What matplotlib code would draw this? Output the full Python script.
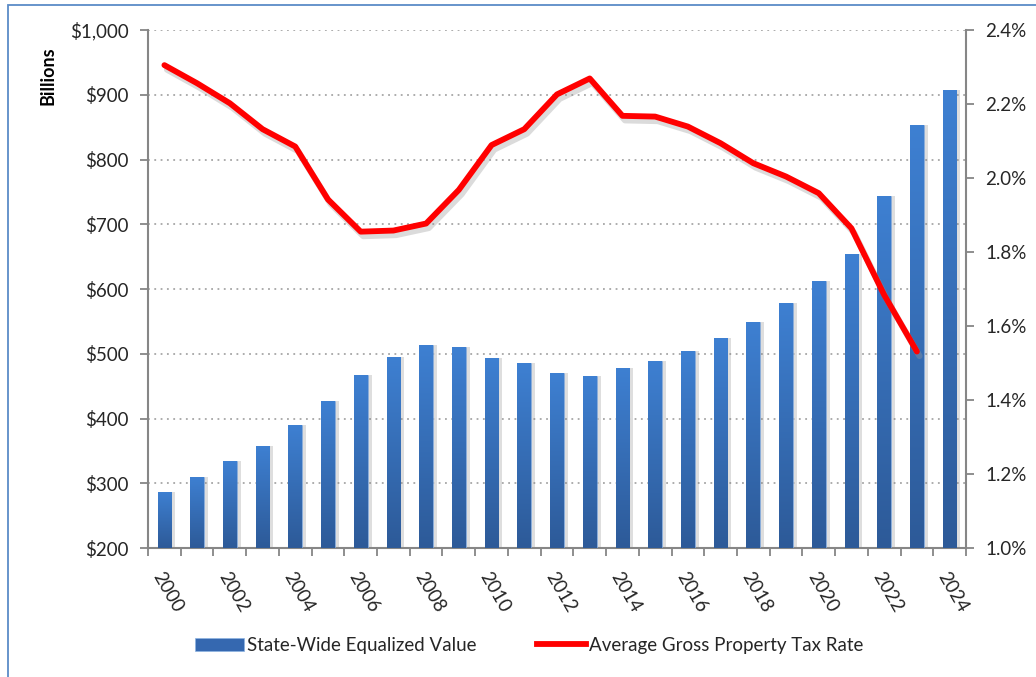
import numpy as np
import matplotlib.pyplot as plt
from matplotlib.patches import Rectangle
from matplotlib.lines import Line2D
from matplotlib.colors import LinearSegmentedColormap

# Data
years = list(range(2000, 2025))
equalized_value = [287, 310, 334, 358, 390, 427, 467, 495, 513, 510, 494, 485, 470,
                   465, 478, 489, 504, 525, 549, 579, 612, 654, 744, 853, 907]
rate_years = list(range(2000, 2024))
tax_rate = [2.305, 2.256, 2.202, 2.132, 2.085, 1.942, 1.855, 1.858, 1.877, 1.968,
            2.089, 2.132, 2.226, 2.269, 2.168, 2.166, 2.139, 2.094, 2.040, 2.004,
            1.959, 1.864, 1.684, 1.531]
left_ticks = [200, 300, 400, 500, 600, 700, 800, 900, 1000]
right_ticks = [1.0, 1.2, 1.4, 1.6, 1.8, 2.0, 2.2, 2.4]

plt.rcParams['font.family'] = ['Lato', 'DejaVu Sans']

axis_gray = '#868686'
text_col = '#262626'
fs = 13.5

fig = plt.figure(figsize=(10.36, 6.77), dpi=100)
ax = fig.add_axes([0.1429, 0.1905, 0.7895, 0.7652])
ax2 = ax.twinx()

x = np.arange(len(years))
grad = LinearSegmentedColormap.from_list('bar', ['#2D5A98', '#3E80D2'])
gradient = np.linspace(0, 1, 256).reshape(-1, 1)

# shadows then bars
ax.bar(x + 0.12, np.array(equalized_value) - 200, width=0.42, bottom=200,
       color='#7f7f7f', alpha=0.25, zorder=2)
bars = ax.bar(x, np.array(equalized_value) - 200, width=0.42, bottom=200,
              color='#3872C0', edgecolor='#8DB3E2', linewidth=0.4, zorder=3)
for b in bars:
    x0, y0 = b.get_x(), b.get_y()
    im = ax.imshow(gradient, cmap=grad, aspect='auto', origin='lower',
                   extent=[x0, x0 + b.get_width(), y0, y0 + b.get_height()],
                   zorder=3.5)
    im.set_clip_path(b)

ax.set_xlim(-0.5, len(years) - 0.5)
ax.set_ylim(200, 1000)
ax.set_yticks(left_ticks)
ax.set_yticklabels(['$' + format(v, ',') for v in left_ticks], fontsize=fs, color=text_col)
ax.yaxis.grid(True, linestyle=(0, (1, 2.5)), color='#A6A6A6', linewidth=1.3)
ax.set_axisbelow(True)

# tick marks between bars, labels every second year
ax.set_xticks(np.arange(-0.5, len(years), 1.0))
ax.set_xticklabels([])
ax.set_xticks(x[::2], minor=True)
ax.set_xticklabels([str(y) for y in years[::2]], minor=True, rotation=-60,
                   ha='left', va='top', rotation_mode='anchor', fontsize=fs,
                   color=text_col)
ax.tick_params(axis='x', which='major', length=6, width=1.3, color=axis_gray)
ax.tick_params(axis='x', which='minor', length=0, pad=15)
ax.tick_params(axis='y', length=6, width=1.3, color=axis_gray, pad=8)

for s in ['top', 'right']:
    ax.spines[s].set_visible(False)
for s in ['left', 'bottom']:
    ax.spines[s].set_color(axis_gray)
    ax.spines[s].set_linewidth(1.5)

# line on right axis
rx = np.array([years.index(y) for y in rate_years])
ax2.plot(rx + 0.08, np.array(tax_rate) - 0.012, color='#999999', alpha=0.35,
         linewidth=4.5, solid_capstyle='round', zorder=4)
ax2.plot(rx, tax_rate, color='#FF0000', linewidth=4.2, solid_capstyle='round',
         solid_joinstyle='round', zorder=5)
ax2.set_ylim(1.0, 2.4)
ax2.set_yticks(right_ticks)
ax2.set_yticklabels(['%.1f%%' % v for v in right_ticks], fontsize=fs, color=text_col)
ax2.tick_params(axis='y', length=6, width=1.3, color=axis_gray, pad=8)
for s in ['top', 'left', 'bottom']:
    ax2.spines[s].set_visible(False)
ax2.spines['right'].set_color(axis_gray)
ax2.spines['right'].set_linewidth(1.5)

fig.text(0.046, 0.888, 'Billions', rotation=90, fontsize=13, fontweight='bold',
         color='#000000', ha='center', va='center')

handles = [Rectangle((0, 0), 1, 1, facecolor='#3568B0', edgecolor='#8DB3E2', linewidth=0.5),
           Line2D([0], [0], color='#FF0000', linewidth=4.2)]
fig.legend(handles, ['State-Wide Equalized Value', 'Average Gross Property Tax Rate'],
           loc='center', bbox_to_anchor=(0.511, 0.047), ncol=2, frameon=False,
           fontsize=fs, handlelength=2.6, columnspacing=3.2, handletextpad=0.2,
           labelcolor=text_col)

fig.patches.append(Rectangle((8 / 1036, -0.1), 1.2, 1.1 - 5 / 677, transform=fig.transFigure,
                             fill=False, edgecolor='#5B8BC7', linewidth=1.3))

fig.savefig('out.png', dpi=100)
